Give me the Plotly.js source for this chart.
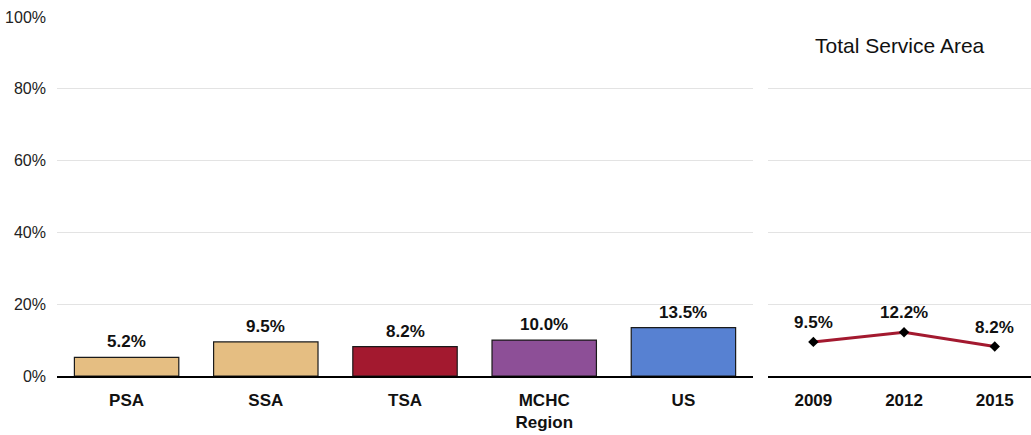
<!DOCTYPE html>
<html>
<head>
<meta charset="utf-8">
<script src="https://cdn.plot.ly/plotly-3.0.1.min.js"></script>
<style>html,body{margin:0;padding:0;background:#fff;}#chart{width:1031px;height:435px;}</style>
</head>
<body>
<div id="chart"></div>
<script>
const regions = ["PSA", "SSA", "TSA", "MCHC<br>Region", "US"];
const regionValues = [5.2, 9.5, 8.2, 10.0, 13.5];
const regionColors = ["#E5BE82", "#E5BE82", "#A3192F", "#8D4F97", "#5781D2"];
const years = ["2009", "2012", "2015"];
const tsaValues = [9.5, 12.2, 8.2];
const yTicks = [0, 20, 40, 60, 80, 100];
const panelTitle = "Total Service Area";

const FONT = "'Liberation Sans Narrow', 'Arial Narrow', 'Liberation Sans', Arial, sans-serif";
const labelFont = {family: FONT, size: 17, color: "#111", weight: "bold"};

const bars = {
  type: "bar",
  x: regions,
  y: regionValues,
  xaxis: "x", yaxis: "y",
  marker: {color: regionColors, line: {color: "#1a1a1a", width: 1.2}},
  hoverinfo: "none"
};

const line = {
  type: "scatter",
  mode: "lines+markers",
  x: years,
  y: tsaValues,
  xaxis: "x2", yaxis: "y2",
  line: {color: "#A3192F", width: 3},
  marker: {symbol: "diamond", size: 8, color: "#000"},
  cliponaxis: false,
  hoverinfo: "none"
};

const annotations = [];
regions.forEach((r, i) => annotations.push({
  xref: "x", yref: "y", x: i, y: regionValues[i],
  xanchor: "center", yanchor: "bottom", yshift: 4,
  text: regionValues[i].toFixed(1) + "%", showarrow: false, font: labelFont
}));
years.forEach((yr, i) => annotations.push({
  xref: "x2", yref: "y2", x: i, y: tsaValues[i],
  xanchor: "center", yanchor: "bottom", yshift: 8,
  text: tsaValues[i].toFixed(1) + "%", showarrow: false, font: labelFont
}));
annotations.push({
  xref: "x2 domain", yref: "paper",
  x: 0.5, y: 0.92, xanchor: "center", yanchor: "middle",
  text: panelTitle, showarrow: false,
  font: {family: FONT, size: 21, color: "#111"}
});

const layout = {
  width: 1031, height: 435,
  margin: {l: 57, r: 0, t: 17, b: 59},
  paper_bgcolor: "#fff", plot_bgcolor: "#fff",
  showlegend: false,
  bargap: 0.25,
  font: {family: FONT, color: "#222"},
  xaxis: {
    domain: [0, 0.7146],
    type: "category",
    showline: true, linecolor: "#000", linewidth: 1.5,
    showgrid: false,
    ticks: "", ticklabelstandoff: 8,
    tickfont: labelFont,
    fixedrange: true
  },
  yaxis: {
    range: [0, 100],
    tickvals: yTicks,
    ticktext: yTicks.map(v => v + "%"),
    tickfont: {family: FONT, size: 16, color: "#222"},
    ticklabelstandoff: 10,
    gridcolor: "#e3e3e3", gridwidth: 1,
    zeroline: false, showline: false, ticks: "",
    fixedrange: true
  },
  xaxis2: {
    domain: [0.7300, 1],
    anchor: "y2",
    range: [-0.5, 2.4],
    type: "category",
    showline: true, linecolor: "#000", linewidth: 1.5,
    showgrid: false,
    ticks: "", ticklabelstandoff: 8,
    tickfont: labelFont,
    fixedrange: true
  },
  yaxis2: {
    anchor: "x2",
    range: [0, 100],
    tickvals: yTicks,
    showticklabels: false,
    gridcolor: "#e3e3e3", gridwidth: 1,
    zeroline: false, showline: false, ticks: "",
    fixedrange: true
  },
  annotations: annotations
};

Plotly.newPlot("chart", [bars, line], layout, {displayModeBar: false, staticPlot: true});
</script>
</body>
</html>
